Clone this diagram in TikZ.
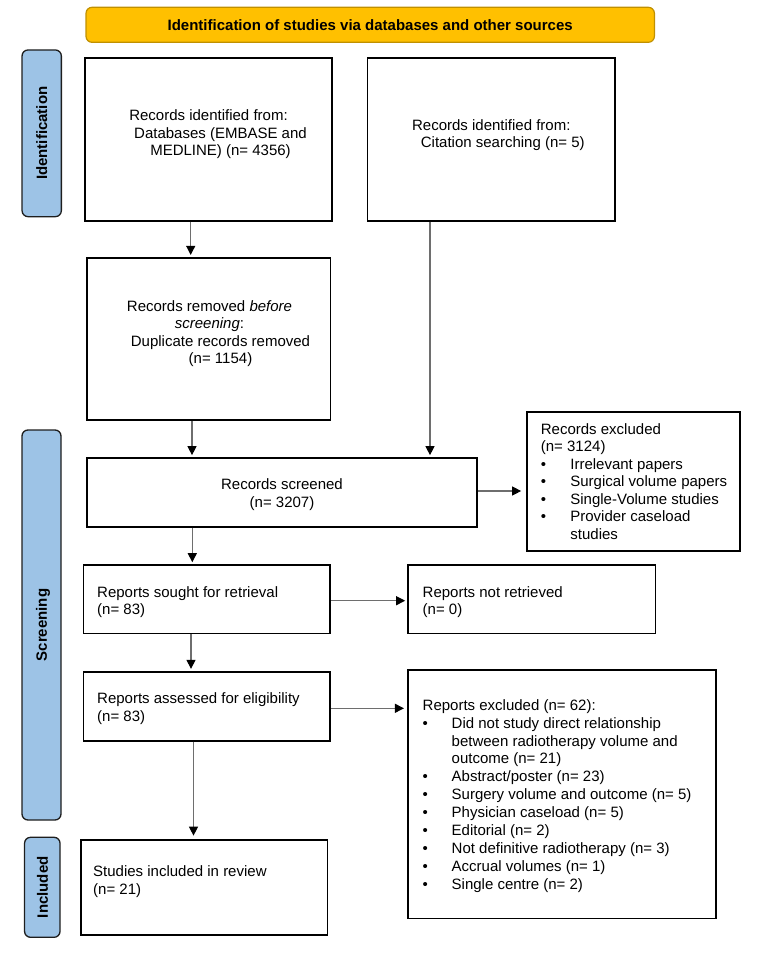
\documentclass[tikz,border=0pt]{standalone}
\usepackage{fontspec}
\setmainfont{Liberation Sans}
\usetikzlibrary{arrows.meta}
\definecolor{gold}{HTML}{FFC000}
\definecolor{goldline}{HTML}{C09000}
\definecolor{barblue}{HTML}{9DC3E6}
\definecolor{barline}{HTML}{1E1E1E}
\definecolor{arrowgray}{HTML}{6E6E6E}
\newcommand\mybul{\makebox[29.5pt][l]{\textbullet}}
\newcommand\mybulb{\makebox[29pt][l]{\textbullet}}
\begin{document}
\begin{tikzpicture}[x=1pt,y=-1pt,
  flowbox/.style={draw=black,line width=1.7pt,inner sep=0pt,fill=white},
  headbox/.style={draw=goldline,fill=gold,line width=1.2pt,rounded corners=6pt,inner sep=0pt,
    font=\bfseries\fontsize{15}{17.5}\selectfont,text height=10.9pt,text depth=0pt},
  sidebar/.style={draw=barline,fill=barblue,line width=1.3pt,rounded corners=6pt,rotate=90,inner sep=0pt,
    font=\bfseries\fontsize{15}{17.5}\selectfont,text height=10.9pt,text depth=0pt},
  txt/.style={inner sep=0pt,font=\fontsize{15}{17.5}\selectfont},
  ctxt/.style={txt,align=center,anchor=north},
  ltxt/.style={txt,align=left,anchor=north west},
  arr/.style={draw=arrowgray,line width=1.1pt,-{Triangle[length=9pt,width=9pt,color=black]},shorten >=2pt}]
\useasboundingbox (0,0) rectangle (767,954);

% header and side bars
\node[headbox,minimum width=568.4pt,minimum height=35pt] (head) at (370.2,24.8)
  {Identification of studies via databases and other sources};
\node[sidebar,minimum width=166.7pt,minimum height=39.3pt] (identbar) at (41.7,133.3) {Identification};
\node[sidebar,minimum width=390pt,minimum height=39pt] (screenbar) at (41.5,625) {Screening};
\node[sidebar,minimum width=100pt,minimum height=35.5pt] (inclbar) at (42.3,887.3) {Included};

% boxes
\node[flowbox,minimum width=247pt,minimum height=162.4pt] (db) at (208.5,139.5) {};
\node[flowbox,minimum width=247.5pt,minimum height=162.4pt] (cit) at (491.3,139.5) {};
\node[flowbox,minimum width=243.5pt,minimum height=162.3pt] (removed) at (208.8,338.9) {};
\node[flowbox,minimum width=390pt,minimum height=69pt] (screened) at (282,492.5) {};
\node[flowbox,minimum width=213pt,minimum height=139pt] (recexcl) at (633.5,481.5) {};
\node[flowbox,minimum width=246.7pt,minimum height=68.3pt] (sought) at (206.7,599.2) {};
\node[flowbox,minimum width=247.4pt,minimum height=68.3pt] (notret) at (531.7,599.2) {};
\node[flowbox,minimum width=246.7pt,minimum height=69pt] (assessed) at (206.7,706.2) {};
\node[flowbox,minimum width=307.4pt,minimum height=248.3pt] (repexcl) at (562,794.2) {};
\node[flowbox,minimum width=246.6pt,minimum height=95pt] (included) at (204.2,887.5) {};

% texts
\node[ctxt] (dbtxt) at (208.5,108.25) {\strut Records identified from:\\
  \hspace*{24pt}Databases (EMBASE and\\ \hspace*{24pt}MEDLINE) (n= 4356)};
\node[ctxt] (cittxt) at (491.3,117.75) {\strut Records identified from:\\
  \hspace*{23pt}Citation searching (n= 5)};
\node[ctxt] (removedtxt) at (209.5,298.75) {\strut Records removed \textit{before}\\
  \textit{screening}:\\ \hspace*{22pt}Duplicate records removed\\ \hspace*{22pt}(n= 1154)};
\node[ctxt] (screenedtxt) at (282,477.25) {\strut Records screened\\(n= 3207)};
\node[ltxt] (recexcltxt) at (540.7,421.75) {\strut Records excluded\\(n= 3124)\\
  \mybul Irrelevant papers\\ \mybul Surgical volume papers\\ \mybul Single-Volume studies\\
  \mybul Provider caseload\\ \hspace*{29.5pt}studies};
\node[ltxt] (soughttxt) at (97,584.75) {\strut Reports sought for retrieval\\(n= 83)};
\node[ltxt] (notrettxt) at (422.5,584.75) {\strut Reports not retrieved\\(n= 0)};
\node[ltxt] (assessedtxt) at (97,691.45) {\strut Reports assessed for eligibility\\(n= 83)};
\node[ltxt,font=\fontsize{15}{17.9}\selectfont] (repexcltxt) at (422.5,697.47) {\strut Reports excluded (n= 62):\\
  \mybulb Did not study direct relationship\\ \hspace*{29pt}between radiotherapy volume and\\
  \hspace*{29pt}outcome (n= 21)\\ \mybulb Abstract/poster (n= 23)\\
  \mybulb Surgery volume and outcome (n= 5)\\ \mybulb Physician caseload (n= 5)\\
  \mybulb Editorial (n= 2)\\ \mybulb Not definitive radiotherapy (n= 3)\\
  \mybulb Accrual volumes (n= 1)\\ \mybulb Single centre (n= 2)};
\node[ltxt,font=\fontsize{15}{18}\selectfont] (includedtxt) at (93,863.4) {\strut Studies included in review\\(n= 21)};

% connectors
\draw[arr] (db.south -| 190.7,0) -- (removed.north -| 190.7,0);
\draw[arr] (cit.south -| 430,0) -- (screened.north -| 430,0);
\draw[arr] (removed.south -| 192,0) -- (screened.north -| 192,0);
\draw[arr] (screened.east |- 0,491) -- (recexcl.west |- 0,491) [shorten >=5pt];
\draw[arr] (screened.south -| 192.3,0) -- (sought.north -| 192.3,0);
\draw[arr] (sought.east |- 0,600.7) -- (notret.west |- 0,600.7);
\draw[arr] (sought.south -| 191,0) -- (assessed.north -| 191,0);
\draw[arr] (assessed.east |- 0,708.3) -- (repexcl.west |- 0,708.3) [shorten >=3.5pt];
\draw[arr] (assessed.south -| 193.5,0) -- (included.north -| 193.5,0) [shorten >=3.5pt];
\end{tikzpicture}
\end{document}
